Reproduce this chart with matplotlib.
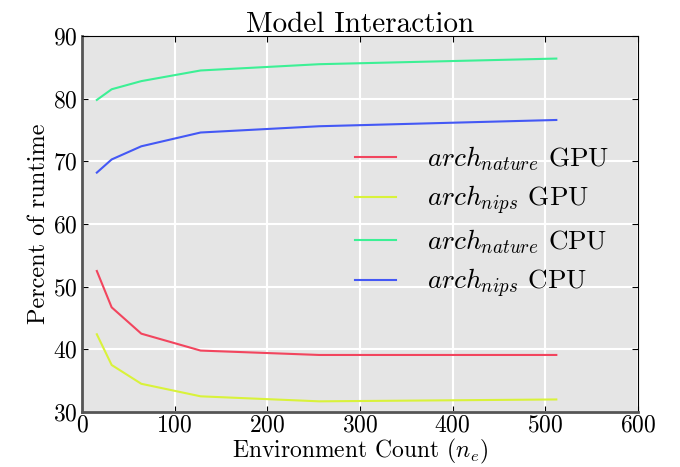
import matplotlib
matplotlib.use('Agg')
import matplotlib.pyplot as plt

plt.rcParams['font.family'] = 'serif'
plt.rcParams['font.serif'] = ['cmr10', 'DejaVu Serif']
plt.rcParams['mathtext.fontset'] = 'cm'
plt.rcParams['axes.formatter.use_mathtext'] = True

env_counts = [16, 32, 64, 128, 256, 512]
nature_gpu = [52.5, 46.7, 42.5, 39.8, 39.1, 39.1]
nips_gpu = [42.4, 37.5, 34.5, 32.5, 31.7, 32.0]
nature_cpu = [79.8, 81.5, 82.8, 84.5, 85.5, 86.4]
nips_cpu = [68.2, 70.3, 72.4, 74.6, 75.6, 76.6]

labels = [r'$arch_{nature}$ GPU', r'$arch_{nips}$ GPU',
          r'$arch_{nature}$ CPU', r'$arch_{nips}$ CPU']
colors = ['#f2455e', '#d9f23a', '#3cf095', '#4458f5']

fig = plt.figure(figsize=(6.8, 4.67), dpi=100)
ax = fig.add_axes([0.1206, 0.1178, 0.8174, 0.8051])
ax.set_facecolor('#e5e5e5')

for series, lab, col in zip([nature_gpu, nips_gpu, nature_cpu, nips_cpu], labels, colors):
    ax.plot(env_counts, series, color=col, linewidth=1.5, label=lab)

ax.set_xlim(0, 600)
ax.set_ylim(30, 90)
ax.set_xticks(range(0, 601, 100))
ax.set_yticks(range(30, 91, 10))
ax.grid(True, color='white', linewidth=1.5)
ax.set_axisbelow(True)

for side in ['left', 'bottom']:
    ax.spines[side].set_color('#555555')
    ax.spines[side].set_linewidth(2)
for side in ['top', 'right']:
    ax.spines[side].set_color('black')
    ax.spines[side].set_linewidth(0.8)

ax.tick_params(direction='in', top=True, right=True, length=4, labelsize=17, pad=3)
ax.tick_params(axis='x', pad=2)

ax.set_title('Model Interaction', fontsize=21, pad=3)
ax.set_xlabel(r'Environment Count ($n_e$)', fontsize=17, labelpad=0)
ax.set_ylabel('Percent of runtime', fontsize=17.5, labelpad=2)

ax.legend(loc='center left', bbox_to_anchor=(0.491, 0.505), frameon=False, fontsize=19.5,
          borderaxespad=0, borderpad=0,
          handlelength=1.5, handletextpad=1.15, labelspacing=0.4)

fig.savefig('out.png', dpi=100)
